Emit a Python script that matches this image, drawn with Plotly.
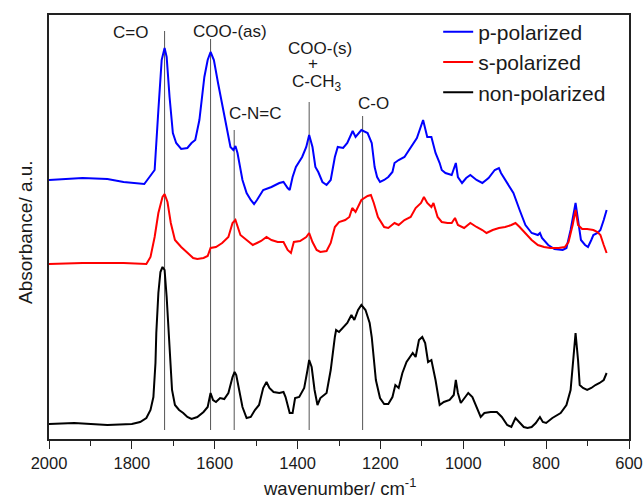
import plotly.graph_objects as go

# ---------------- data ----------------
p_wn = [2000,1919,1859,1820,1770,1745,1736,1728,1721,1716,1709,1701,1693,1681,1666,1656,1647,1637,1625,1617,
        1610,1602,1592,1577,1562,1555,1550,1545,1538,1533,1523,1513,1505,1498,1483,1463,1444,1434,1424,1419,
        1412,1404,1389,1379,1372,1364,1357,1350,1340,1330,1320,1315,1310,1303,1290,1280,1267,1260,1246,1231,
        1221,1214,1208,1201,1191,1181,1171,1166,1156,1142,1127,1112,1097,1087,1077,1067,1057,1052,1043,1028,
        1018,1013,1003,993,983,968,954,939,924,914,909,894,879,864,850,835,820,815,810,795,
        780,760,751,741,733,729,723,716,706,699,691,686,676,669,661,654]
p_abs = [259,261,260,257,255,269,329,379,391,382,342,306,296,290,291,296,299,319,362,379,
         387,379,356,322,292,289,293,286,269,259,246,239,235,239,249,252,256,257,251,249,
         262,272,282,292,304,292,272,267,257,254,259,269,282,292,291,296,308,302,309,306,
         296,272,262,257,259,262,267,276,279,282,292,301,319,302,302,286,276,269,266,264,
         276,262,256,261,264,259,256,261,269,271,266,256,246,229,214,206,204,206,201,194,
         190,189,191,209,229,236,219,199,194,192,199,204,206,209,219,229]

s_wn = [2000,1919,1820,1765,1755,1745,1736,1726,1721,1714,1706,1696,1681,1666,1652,1642,1627,1617,1610,1597,
        1582,1567,1557,1550,1545,1538,1523,1508,1498,1488,1475,1463,1448,1434,1424,1416,1409,1394,1379,1372,
        1364,1354,1345,1330,1320,1310,1300,1285,1275,1268,1260,1254,1246,1231,1223,1216,1206,1191,1181,1166,
        1156,1142,1127,1115,1102,1095,1087,1077,1072,1062,1052,1038,1028,1020,1013,998,983,968,954,944,
        929,914,899,884,874,864,850,835,820,805,790,770,755,746,736,729,723,713,701,686,
        676,669,661,654]
s_abs = [175,176,176,175,182,202,226,242,245,237,216,199,192,186,181,180,181,183,191,192,
         196,202,216,219,212,204,199,194,196,198,202,199,197,197,189,186,197,198,202,206,
         197,189,187,188,196,212,217,219,222,231,227,232,239,243,244,236,222,212,211,216,
         214,219,222,231,236,242,236,232,236,222,217,216,216,221,214,211,216,212,209,206,
         209,211,212,214,216,212,206,199,194,192,191,191,192,197,214,229,214,210,210,209,
         207,204,194,186]

n_wn = [2000,1939,1859,1800,1780,1765,1755,1748,1743,1741,1736,1731,1726,1721,1716,1711,1709,1703,1696,1686,
        1676,1666,1656,1642,1627,1617,1610,1604,1597,1587,1577,1567,1557,1552,1548,1541,1533,1523,1513,1503,
        1493,1483,1475,1468,1458,1444,1434,1429,1419,1412,1406,1396,1384,1376,1372,1366,1359,1352,1345,1330,
        1320,1310,1307,1300,1290,1280,1270,1263,1254,1246,1236,1226,1221,1216,1211,1201,1191,1181,1171,1164,
        1156,1147,1137,1122,1115,1107,1099,1092,1085,1077,1067,1057,1047,1033,1023,1018,1013,1006,998,988,
        978,968,958,949,934,919,907,894,884,874,864,854,845,835,825,815,808,800,785,765,
        751,741,734,729,723,719,711,701,691,681,671,661,654]
n_abs = [15,16,14,15,17,21,29,42,76,106,146,167,172,169,142,102,89,49,34,29,
         26,22,20,22,27,32,46,39,37,41,40,46,62,67,64,49,32,21,22,29,
         34,51,57,51,47,46,47,42,26,26,41,42,51,69,79,72,49,34,41,46,
         69,102,109,107,112,116,124,119,129,134,129,116,102,82,59,41,35,35,42,54,
         51,66,77,86,82,99,102,96,77,79,59,34,37,39,44,59,46,36,41,46,
         42,32,22,26,27,27,22,14,12,21,16,12,11,12,16,22,17,16,21,26,
         34,49,82,106,79,54,51,49,51,54,56,59,66]

band_labels = ["C=O", "COO-(as)", "C-N=C", "COO-(s)", "C-O"]
band_wn = [1721, 1610, 1553, 1372, 1243]
band_top = [408, 400, 309, 337, 323]
band_bottom = 9

series_names = ["p-polarized", "s-polarized", "non-polarized"]
series_colors = ["#0000ff", "#ff0000", "#000000"]

x_ticks = [2000, 1800, 1600, 1400, 1200, 1000, 800, 600]

# ---------------- figure ----------------
fig = go.Figure()

# band marker lines
for wn, top in zip(band_wn, band_top):
    fig.add_trace(go.Scatter(x=[wn, wn], y=[band_bottom, top], mode="lines",
                             line=dict(color="#555555", width=1), showlegend=False,
                             hoverinfo="skip"))

for name, col, xs, ys in zip(series_names, series_colors,
                             [p_wn, s_wn, n_wn], [p_abs, s_abs, n_abs]):
    fig.add_trace(go.Scatter(x=xs, y=ys, mode="lines", name=name,
                             line=dict(color=col, width=2)))

FONT = "Liberation Sans, Arial, sans-serif"
TXT = "#1a1a1a"

# band annotations: (text, wn, y)
ann = [
    ("C=O", 1804, 407),
    ("COO-(as)", 1563, 408),
    ("C-N=C", 1502, 326),
    ("COO-(s)", 1345, 391),
    ("+", 1362, 376),
    ("C-CH<sub>3</sub>", 1352, 356),
    ("C-O", 1217, 336),
]
for t, x, y in ann:
    fig.add_annotation(x=x, y=y, text=t, showarrow=False, xanchor="center", yanchor="middle",
                       font=dict(family=FONT, size=17, color=TXT))

fig.add_annotation(xref="paper", yref="paper", x=0, y=0.5, xshift=-24, yshift=-5,
                   text="Absorbance/ a.u.", textangle=-90, showarrow=False,
                   xanchor="center", yanchor="middle",
                   font=dict(family=FONT, size=19, color=TXT))

fig.add_annotation(xref="paper", yref="paper", x=0.5, y=0, yshift=-48,
                   text="wavenumber/ cm<sup>-1</sup>", showarrow=False,
                   xanchor="center", yanchor="middle",
                   font=dict(family=FONT, size=18.5, color=TXT))

fig.update_layout(
    width=643, height=498,
    margin=dict(l=49, r=14, t=15, b=59),
    paper_bgcolor="white", plot_bgcolor="white",
    font=dict(family=FONT, color=TXT),
    legend=dict(x=0.671, y=1.008, xanchor="left", yanchor="top",
                bgcolor="rgba(0,0,0,0)", font=dict(family=FONT, size=21, color=TXT),
                tracegroupgap=0),
    showlegend=True,
)

fig.update_xaxes(range=[2000, 600], tickvals=x_ticks, ticktext=[str(v) for v in x_ticks],
                 automargin=False,
                 ticks="outside", ticklen=8, tickwidth=1, tickcolor="#222",
                 minor=dict(dtick=100, ticks="outside", ticklen=5, tickcolor="#222", tick0=2000),
                 showline=True, linecolor="#222", linewidth=1.5, mirror=True,
                 showgrid=False, zeroline=False,
                 tickfont=dict(family=FONT, size=16.5, color=TXT))
fig.update_yaxes(range=[0, 424], showticklabels=False, ticks="", automargin=False,
                 showline=True, linecolor="#222", linewidth=1.5, mirror=True,
                 showgrid=False, zeroline=False)

fig.write_html("out.html")
